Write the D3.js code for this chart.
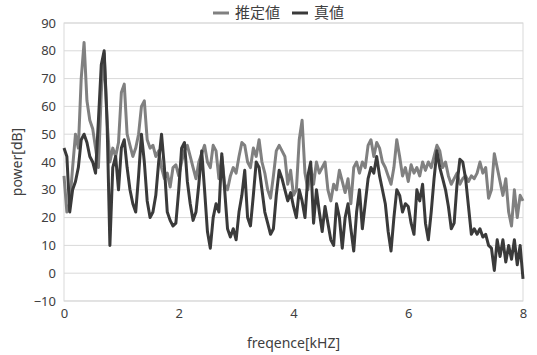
<!DOCTYPE html>
<html>
<head>
<meta charset="utf-8">
<script src="https://cdn.jsdelivr.net/npm/d3@7"></script>
<style>
  body { margin: 0; background: #fff; }
  svg { display: block; font-family: "Noto Sans CJK JP", "Noto Sans", sans-serif; }
</style>
</head>
<body>
<svg id="chart" width="537" height="355"></svg>
<script>
// frequency step (kHz) between samples, 0 .. 8
const step = 0.05;
const seriesNames = ["推定値", "真値"];
const xTicks = [0, 2, 4, 6, 8];
const yTicks = [-10, 0, 10, 20, 30, 40, 50, 60, 70, 80, 90];

// 推定値 (estimated)
const estimated = [
  35, 22, 25, 38, 50, 45, 70, 83, 62, 55, 52, 45, 38, 65, 79, 55, 40,
  45, 42, 47, 65, 68, 50, 46, 42, 45, 50, 60, 62, 48, 45, 46, 42,
  44, 38, 34, 36, 31, 38, 39, 35, 40, 44, 46, 42, 38, 34, 40, 43,
  46, 40, 38, 46, 44, 34, 42, 32, 30, 35, 38, 36, 42, 47, 46, 40,
  38, 45, 42, 48, 40, 36, 30, 27, 35, 44, 46, 44, 42, 32, 37, 28,
  30, 48, 55, 36, 30, 38, 32, 40, 36, 38, 40, 30, 26, 32, 30, 37,
  33, 29, 34, 25, 38, 40, 36, 40, 38, 46, 48, 42, 47, 45, 40, 38,
  35, 32, 38, 48, 42, 35, 38, 33, 39, 36, 38, 35, 40, 37, 40, 38,
  42, 46, 44, 38, 40, 35, 32, 34, 36, 32, 34, 35, 33, 35, 34, 36,
  40, 36, 38, 27, 30, 43, 38, 33, 28, 34, 22, 17, 30, 20, 28, 26
];

// 真値 (true)
const actual = [
  45, 42, 22, 30, 33, 38, 48, 50, 47, 42, 40, 36, 55, 75, 80, 55, 10,
  38, 42, 30, 45, 48, 38, 30, 25, 22, 35, 50, 40, 26, 20, 22, 28,
  40, 50, 38, 22, 19, 17, 18, 30, 45, 47, 33, 25, 19, 22, 32, 44,
  30, 15, 9, 20, 25, 22, 43, 30, 16, 13, 16, 12, 22, 28, 37, 20,
  17, 28, 40, 38, 30, 22, 18, 14, 16, 28, 37, 34, 30, 26, 29, 24,
  20, 30, 26, 20, 35, 40, 18, 30, 22, 15, 24, 18, 12, 10, 25, 20,
  9, 20, 25, 16, 8, 22, 30, 16, 25, 34, 38, 36, 42, 35, 30, 25,
  15, 8, 20, 30, 28, 22, 25, 24, 18, 14, 30, 26, 32, 18, 12, 22,
  34, 44, 38, 34, 30, 24, 16, 18, 32, 41, 40, 34, 24, 14, 16, 14,
  16, 13, 14, 10, 9, 1, 12, 6, 12, 4, 10, 5, 12, 3, 10, -2
];

const colors = ["#808080", "#3a3a3a"];

const margin = {top: 23, right: 14, bottom: 54, left: 64};
const width = 537 - margin.left - margin.right;
const height = 355 - margin.top - margin.bottom;

const svg = d3.select("#chart");
const g = svg.append("g")
  .attr("transform", "translate(" + margin.left + "," + margin.top + ")");

const x = d3.scaleLinear().domain([0, 8]).range([0, width]);
const y = d3.scaleLinear().domain([-10, 90]).range([height, 0]);

// horizontal grid
g.append("g")
  .selectAll("line")
  .data(yTicks)
  .enter()
  .append("line")
  .attr("x1", 0)
  .attr("x2", width)
  .attr("y1", d => y(d))
  .attr("y2", d => y(d))
  .attr("stroke", "#d9d9d9")
  .attr("stroke-width", 1);

// plot area frame
g.append("rect")
  .attr("x", 0)
  .attr("y", 0)
  .attr("width", width)
  .attr("height", height)
  .attr("fill", "none")
  .attr("stroke", "#d9d9d9");

// y axis labels
const yAxis = g.append("g")
  .call(d3.axisLeft(y).tickValues(yTicks).tickSize(0).tickPadding(8));
yAxis.select(".domain").remove();
yAxis.selectAll("text")
  .attr("font-size", 13)
  .attr("fill", "#404040")
  .style("font-family", "'Noto Sans', sans-serif");

// x axis labels
const xAxis = g.append("g")
  .attr("transform", "translate(0," + height + ")")
  .call(d3.axisBottom(x).tickValues(xTicks).tickSize(0).tickPadding(8));
xAxis.select(".domain").remove();
xAxis.selectAll("text")
  .attr("font-size", 13)
  .attr("fill", "#404040")
  .style("font-family", "'Noto Sans', sans-serif");

// axis titles
svg.append("text")
  .attr("x", margin.left + width / 2)
  .attr("y", 348)
  .attr("text-anchor", "middle")
  .attr("font-size", 14)
  .attr("fill", "#404040")
  .style("font-family", "'Noto Sans', sans-serif")
  .text("freqence[kHZ]");

svg.append("text")
  .attr("transform", "translate(22," + (margin.top + height / 2) + ") rotate(-90)")
  .attr("text-anchor", "middle")
  .attr("font-size", 14)
  .attr("fill", "#404040")
  .style("font-family", "'Noto Sans', sans-serif")
  .text("power[dB]");

// lines
const line = d3.line()
  .x((d, i) => x(i * step))
  .y(d => y(d));

[estimated, actual].forEach((data, k) => {
  g.append("path")
    .datum(data)
    .attr("fill", "none")
    .attr("stroke", colors[k])
    .attr("stroke-width", 3)
    .attr("stroke-linejoin", "round")
    .attr("d", line);
});

// legend
const legend = svg.append("g").attr("transform", "translate(213,13)");
let lx = 0;
seriesNames.forEach((name, k) => {
  legend.append("line")
    .attr("x1", lx)
    .attr("x2", lx + 16)
    .attr("y1", 0)
    .attr("y2", 0)
    .attr("stroke", colors[k])
    .attr("stroke-width", 3);
  const t = legend.append("text")
    .attr("x", lx + 22)
    .attr("y", 5)
    .attr("font-size", 15)
    .attr("fill", "#404040")
    .text(name);
  lx += 22 + t.node().getComputedTextLength() + 12;
});
</script>
</body>
</html>
